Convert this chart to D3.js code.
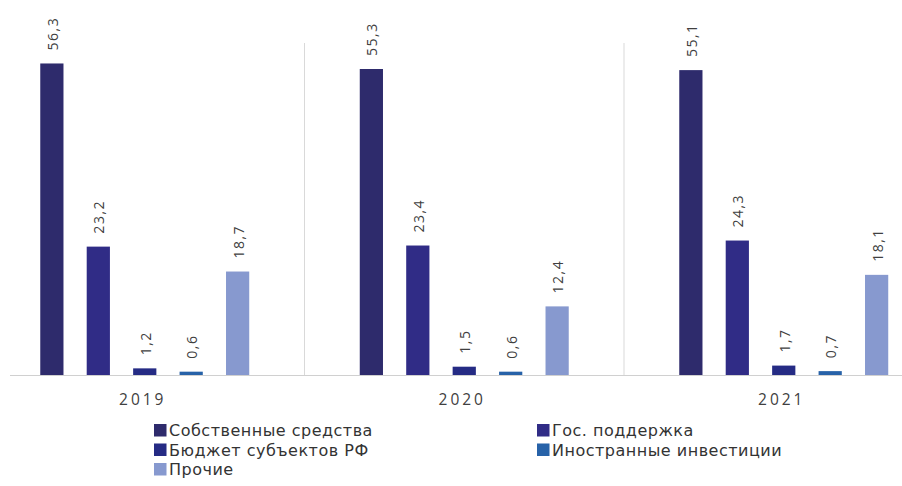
<!DOCTYPE html>
<html>
<head>
<meta charset="utf-8">
<script src="https://cdn.jsdelivr.net/npm/d3@7"></script>
<style>
  body { margin: 0; background: #fff; }
  text { font-family: "Open Sans", sans-serif; fill: #404040; }
</style>
</head>
<body>
<div class="chart"></div>
<script>
const years = ['2019', '2020', '2021']
const seriesNames = [
  'Собственные средства',
  'Гос. поддержка',
  'Бюджет субъектов РФ',
  'Иностранные инвестиции',
  'Прочие'
]
const ownFunds = [56.3, 55.3, 55.1]
const stateSupport = [23.2, 23.4, 24.3]
const regionalBudget = [1.2, 1.5, 1.7]
const foreignInvest = [0.6, 0.6, 0.7]
const other = [18.7, 12.4, 18.1]
const colors = ['#2e2b6c', '#302c86', '#252b84', '#2762a8', '#8799cf']

const seriesValues = [ownFunds, stateSupport, regionalBudget, foreignInvest, other]

const width = 902
const height = 486
const baseY = 375
const topY = 43

const svg = d3
  .select('.chart')
  .append('svg')
  .attr('width', width)
  .attr('height', height)

const x0 = d3
  .scaleBand()
  .domain(years)
  .range([-15, 943.5])
  .padding(0)

const x1 = d3
  .scaleBand()
  .domain(d3.range(seriesNames.length))
  .range([0, x0.bandwidth()])
  .paddingInner(0.5)
  .paddingOuter(1.19)

const y = d3
  .scaleLinear()
  .domain([0, 60])
  .range([baseY, topY])

const fmt = v => d3.format('.1f')(v).replace('.', ',')

// separators between years
svg
  .selectAll('.sep')
  .data(years.slice(1))
  .enter()
  .append('line')
  .attr('x1', d => x0(d))
  .attr('x2', d => x0(d))
  .attr('y1', topY)
  .attr('y2', baseY)
  .style('stroke', '#d9d9d9')
  .style('stroke-width', 1)

// bars
const groups = svg
  .selectAll('.year')
  .data(years)
  .enter()
  .append('g')
  .attr('transform', d => 'translate(' + x0(d) + ',0)')

groups.each(function(yr, yi) {
  const g = d3.select(this)
  seriesValues.forEach((vals, si) => {
    const v = vals[yi]
    g.append('rect')
      .attr('x', x1(si))
      .attr('width', x1.bandwidth())
      .attr('y', y(v))
      .attr('height', baseY - y(v))
      .style('fill', colors[si])
    const cx = x1(si) + x1.bandwidth() / 2
    g.append('text')
      .attr('transform', 'translate(' + (cx + 1) + ',' + (y(v) - 13) + ') rotate(-90)')
      .attr('dy', '0.35em')
      .style('font-size', '14px')
      .style('letter-spacing', '1.5px')
      .style('text-anchor', 'start')
      .text(fmt(v))
  })
})

// axis line
svg
  .append('line')
  .attr('x1', 10)
  .attr('x2', width)
  .attr('y1', baseY + 0.5)
  .attr('y2', baseY + 0.5)
  .style('stroke', '#d0d0d0')
  .style('stroke-width', 1)

// year labels
svg
  .selectAll('.yl')
  .data(years)
  .enter()
  .append('text')
  .attr('x', d => x0(d) + x0.bandwidth() / 2 - 2)
  .attr('y', 405)
  .style('font-size', '15.5px')
  .style('letter-spacing', '3px')
  .style('text-anchor', 'middle')
  .text(d => d)

// legend
const legendPos = [
  [154, 436], [537, 436],
  [154, 455.5], [537, 455.5],
  [154, 475]
]
const legend = svg
  .selectAll('.leg')
  .data(seriesNames)
  .enter()
  .append('g')
  .attr('transform', (d, i) => 'translate(' + legendPos[i][0] + ',' + legendPos[i][1] + ')')

legend
  .append('rect')
  .attr('x', 0)
  .attr('y', -12)
  .attr('width', 12.5)
  .attr('height', 12.5)
  .style('fill', (d, i) => colors[i])

legend
  .append('text')
  .attr('x', 15)
  .attr('y', 0)
  .style('font-family', '"DejaVu Sans", sans-serif')
  .style('font-size', '16px')
  .style('letter-spacing', '0.5px')
  .style('fill', '#333')
  .text(d => d)
</script>
</body>
</html>
